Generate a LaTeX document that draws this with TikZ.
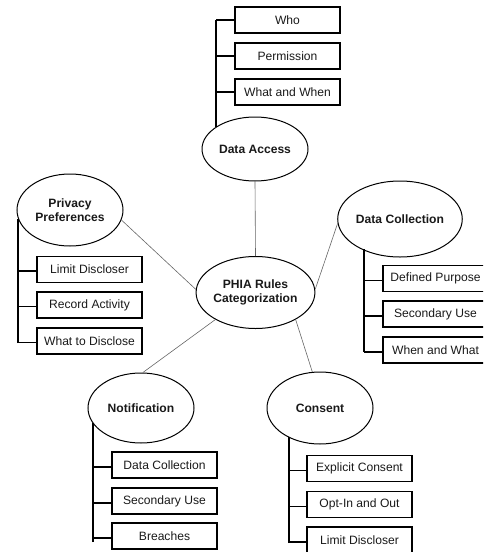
\documentclass[tikz,border=0pt]{standalone}
\usepackage{fontspec}
\setmainfont{Liberation Sans}
\usetikzlibrary{shapes.geometric}
\begin{document}
\begin{tikzpicture}[x=1pt,y=-1pt,
  every node/.style={font=\fontsize{12.1}{14}\selectfont, text=black!90},
  cat/.style={ellipse, draw, line width=1pt, inner sep=0pt, minimum width=106pt, minimum height=70pt, font=\fontsize{12.1}{14}\selectfont\bfseries, align=center},
  leaf/.style={rectangle, draw, line width=1.3pt, minimum width=105pt, minimum height=26pt, inner sep=0pt},
  link/.style={line width=0.6pt, draw=black!60},
  bracket/.style={line width=1.5pt}]
\useasboundingbox (0,0) rectangle (483,552);
\clip (0,0) rectangle (483,552);
% central
\node[cat, minimum width=104pt, minimum height=72pt] (c) at (255.5,292.5) {PHIA Rules\\Categorization};
% categories
\node[cat, minimum height=64pt] (da) at (255,149) {Data Access};
\node[cat, minimum height=72pt] (pp) at (70,210) {Privacy\\Preferences};
\node[cat, minimum height=76pt] (dc) at (400,219) {Data Collection};
\node[cat, minimum height=70pt] (no) at (141,408) {Notification};
\node[cat, minimum height=72pt] (co) at (320,408) {Consent};
% links
\draw[link] (c.north) -- (da.south);
\draw[link] (c.177) -- (pp.-11);
\draw[link] (c.3) -- (dc.184);
\draw[link] (c.214) -- (no.87);
\draw[link] (c.-34) -- (co.102);
% Data Access leaves
\node[leaf] (da1) at (287.5,20) {Who};
\node[leaf] (da2) at (287.5,56) {Permission};
\node[leaf] (da3) at (287.5,92) {What and When};
\coordinate (dat) at (216,20);
\draw[bracket] (dat) -- (dat |- da.150);
\foreach \n in {da1,da2,da3} \draw[bracket] (\n.west) -- (\n.west -| dat);
% Privacy leaves
\node[leaf] (pp1) at (89.5,269.5) {Limit Discloser};
\node[leaf] (pp2) at (89.5,305) {Record Activity};
\node[leaf] (pp3) at (89.5,341) {What to Disclose};
\coordinate (ppb) at (18,343);
\draw[bracket] (ppb) -- (ppb |- pp.190);
\foreach \n in {pp1,pp2,pp3} \draw[bracket] ([yshift=-1.5pt]\n.west) -- ([yshift=-1.5pt]\n.west -| ppb);
% Data Collection leaves
\node[leaf] (dc1) at (435.5,278.5) {Defined Purpose};
\node[leaf] (dc2) at (435.5,314) {Secondary Use};
\node[leaf] (dc3) at (435.5,350) {When and What};
\coordinate (dcb) at (364,352);
\draw[bracket] (dcb) -- (dcb |- dc.218);
\foreach \n in {dc1,dc2,dc3} \draw[bracket] ([yshift=-2pt]\n.west) -- ([yshift=-2pt]\n.west -| dcb);
% Notification leaves
\node[leaf] (no1) at (164.5,465) {Data Collection};
\node[leaf] (no2) at (164.5,501) {Secondary Use};
\node[leaf] (no3) at (164.5,536) {Breaches};
\coordinate (nob) at (93,542);
\draw[bracket] (nob) -- (nob |- no.197);
\foreach \n in {no1,no2,no3} \draw[bracket] ([yshift=-2pt]\n.west) -- ([yshift=-2pt]\n.west -| nob);
% Consent leaves
\node[leaf] (co1) at (359.5,468.5) {Explicit Consent};
\node[leaf] (co2) at (359.5,504.5) {Opt-In and Out};
\node[leaf] (co3) at (359.5,540) {Limit Discloser};
\coordinate (cob) at (289,543);
\draw[bracket] (cob) -- (cob |- co.223);
\foreach \n in {co1,co2,co3} \draw[bracket] ([yshift=-2pt]\n.west) -- ([yshift=-2pt]\n.west -| cob);
\end{tikzpicture}
\end{document}
